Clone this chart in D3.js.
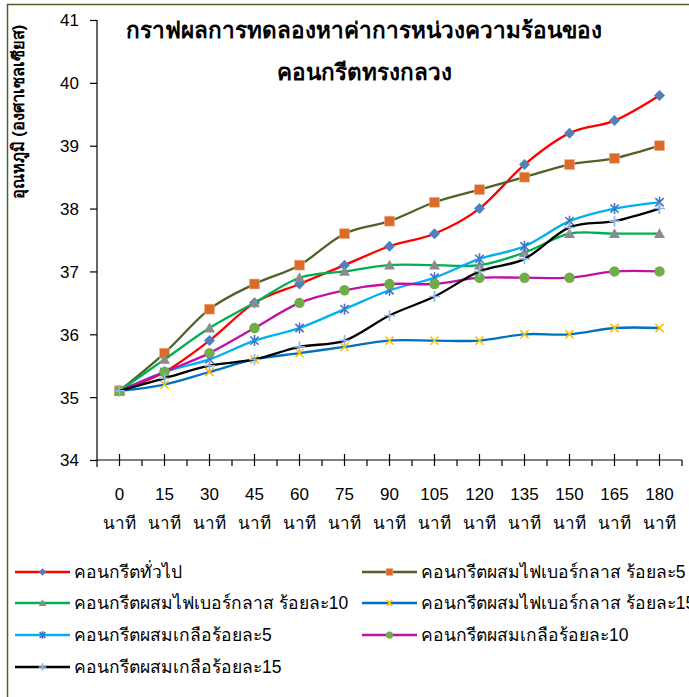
<!DOCTYPE html>
<html>
<head>
  <meta charset="UTF-8">
  <title>heat delay chart</title>
  <style>
    body { margin: 0; background: white; }
    svg { display: block; }
    text { font-family: "Liberation Sans", Arial, sans-serif; fill: black; }
    .title { font-weight: bold; font-size: 22.5px; }
  </style>
</head>
<body>
  <svg id="chart" width="689" height="697"></svg>

  <script src="https://d3js.org/d3.v7.min.js"></script>
  <script>
    // categories (minutes)
    const minutes = ["0", "15", "30", "45", "60", "75", "90", "105", "120", "135", "150", "165", "180"];
    const yTicks = [34, 35, 36, 37, 38, 39, 40, 41];

    // series values
    const normal      = [35.1, 35.4, 35.9, 36.5, 36.8, 37.1, 37.4, 37.6, 38.0, 38.7, 39.2, 39.4, 39.8];
    const fiber5      = [35.1, 35.7, 36.4, 36.8, 37.1, 37.6, 37.8, 38.1, 38.3, 38.5, 38.7, 38.8, 39.0];
    const fiber10     = [35.1, 35.6, 36.1, 36.5, 36.9, 37.0, 37.1, 37.1, 37.1, 37.3, 37.6, 37.6, 37.6];
    const fiber15     = [35.1, 35.2, 35.4, 35.6, 35.7, 35.8, 35.9, 35.9, 35.9, 36.0, 36.0, 36.1, 36.1];
    const salt5       = [35.1, 35.4, 35.6, 35.9, 36.1, 36.4, 36.7, 36.9, 37.2, 37.4, 37.8, 38.0, 38.1];
    const salt10      = [35.1, 35.4, 35.7, 36.1, 36.5, 36.7, 36.8, 36.8, 36.9, 36.9, 36.9, 37.0, 37.0];
    const salt15      = [35.1, 35.3, 35.5, 35.6, 35.8, 35.9, 36.3, 36.6, 37.0, 37.2, 37.7, 37.8, 38.0];

    const seriesNames = [
      "คอนกรีตทั่วไป",
      "คอนกรีตผสมไฟเบอร์กลาส ร้อยละ5",
      "คอนกรีตผสมไฟเบอร์กลาส ร้อยละ10",
      "คอนกรีตผสมไฟเบอร์กลาส ร้อยละ15",
      "คอนกรีตผสมเกลือร้อยละ5",
      "คอนกรีตผสมเกลือร้อยละ10",
      "คอนกรีตผสมเกลือร้อยละ15"
    ];

    const series = [
      { name: seriesNames[0], values: normal,  line: "#ff0000", mark: "diamond",  fill: "#4f81bd" },
      { name: seriesNames[1], values: fiber5,  line: "#4f6228", mark: "square",   fill: "#dc6a28" },
      { name: seriesNames[2], values: fiber10, line: "#00b050", mark: "triangle", fill: "#8c8c8c" },
      { name: seriesNames[3], values: fiber15, line: "#0070c0", mark: "x",        fill: "#ffc000" },
      { name: seriesNames[4], values: salt5,   line: "#00b0f0", mark: "star",     fill: "#4472c4" },
      { name: seriesNames[5], values: salt10,  line: "#c010a8", mark: "circle",   fill: "#70ad47" },
      { name: seriesNames[6], values: salt15,  line: "#000000", mark: "plus",     fill: "#8eb4e3" }
    ];

    const svg = d3.select("#chart");

    // outer chart frame (only top and left show in the crop)
    svg.append("path")
      .attr("d", "M7.5,700 L7.5,4.5 L700,4.5")
      .attr("fill", "none")
      .attr("stroke", "#4f6228")
      .attr("stroke-width", 1.5);

    const plotL = 97, plotR = 682, plotT = 20, plotB = 460;

    const x = d3.scaleBand().domain(minutes).range([plotL, plotR]).padding(0);
    const cx = d => x(d) + x.bandwidth() / 2;
    const y = d3.scaleLinear().domain([34, 41]).range([plotB, plotT]);

    // y axis
    const yAxis = svg.append("g").attr("transform", "translate(" + plotL + ",0)")
      .call(d3.axisLeft(y).tickValues(yTicks).tickSize(7).tickPadding(11).tickFormat(d3.format("d")));
    yAxis.select(".domain").attr("d", "M0," + plotT + "V" + (plotB + 7)).attr("stroke", "black").attr("stroke-width", 1.2);
    yAxis.selectAll(".tick line").attr("stroke", "black").attr("stroke-width", 1.2);
    yAxis.selectAll(".tick text").style("font-size", "17px").attr("dy", "0.35em");

    // x axis
    const xg = svg.append("g");
    xg.append("line").attr("x1", plotL).attr("x2", plotR).attr("y1", plotB).attr("y2", plotB)
      .attr("stroke", "black").attr("stroke-width", 1.2);
    // boundary ticks (outside)
    xg.selectAll(".bt").data(minutes).enter().append("line")
      .attr("x1", d => x(d) + x.bandwidth())
      .attr("x2", d => x(d) + x.bandwidth())
      .attr("y1", plotB).attr("y2", plotB + 6)
      .attr("stroke", "black").attr("stroke-width", 1.2);
    // centre ticks (cross)
    xg.selectAll(".ct").data(minutes).enter().append("line")
      .attr("x1", d => cx(d)).attr("x2", d => cx(d))
      .attr("y1", plotB - 6).attr("y2", plotB + 6)
      .attr("stroke", "black").attr("stroke-width", 1.2);
    xg.selectAll(".xl").data(minutes).enter().append("text")
      .attr("x", d => cx(d)).attr("y", 500)
      .attr("text-anchor", "middle").style("font-size", "17px")
      .text(d => d);
    xg.selectAll(".xu").data(minutes).enter().append("text")
      .attr("x", d => cx(d)).attr("y", 529)
      .attr("text-anchor", "middle").style("font-size", "17px")
      .text("นาที");

    // y axis title
    svg.append("text")
      .attr("transform", "translate(24,112) rotate(-90)")
      .attr("text-anchor", "middle")
      .style("font-size", "16.5px").style("font-weight", "bold")
      .text("อุณหภูมิ (องศาเซลเซียส)");

    // title
    svg.append("text").attr("class", "title").attr("x", 364).attr("y", 38)
      .attr("text-anchor", "middle").text("กราฟผลการทดลองหาค่าการหน่วงความร้อนของ");
    svg.append("text").attr("class", "title").attr("x", 364).attr("y", 80)
      .attr("text-anchor", "middle").text("คอนกรีตทรงกลวง");

    function drawMarker(g, type, fill, s) {
      if (type === "diamond") {
        g.append("path").attr("d", `M0,${-s}L${s},0L0,${s}L${-s},0Z`).attr("fill", fill);
      } else if (type === "square") {
        g.append("rect").attr("x", -s * 0.9).attr("y", -s * 0.9).attr("width", s * 1.8).attr("height", s * 1.8)
          .attr("fill", fill).attr("stroke", "#f0b090").attr("stroke-width", 0.6);
      } else if (type === "triangle") {
        g.append("path").attr("d", `M0,${-s}L${s},${s * 0.8}L${-s},${s * 0.8}Z`).attr("fill", fill);
      } else if (type === "circle") {
        g.append("circle").attr("r", s * 0.95).attr("fill", fill);
      } else if (type === "x") {
        const k = s * 0.75;
        g.append("path").attr("d", `M${-k},${-k}L${k},${k}M${-k},${k}L${k},${-k}`)
          .attr("stroke", fill).attr("stroke-width", 1.6);
      } else if (type === "star") {
        const k = s * 0.75;
        g.append("path").attr("d", `M${-k},${-k}L${k},${k}M${-k},${k}L${k},${-k}M0,${-s}L0,${s}`)
          .attr("stroke", fill).attr("stroke-width", 1.6);
      } else if (type === "plus") {
        g.append("path").attr("d", `M${-s},0L${s},0M0,${-s}L0,${s}`)
          .attr("stroke", fill).attr("stroke-width", 1.6);
      }
    }

    const line = d3.line()
      .x((d, i) => cx(minutes[i]))
      .y(d => y(d))
      .curve(d3.curveCatmullRom.alpha(0));

    series.forEach(s => {
      const g = svg.append("g");
      g.append("path").attr("d", line(s.values))
        .attr("fill", "none").attr("stroke", s.line).attr("stroke-width", 2.3);
      s.values.forEach((v, i) => {
        const m = g.append("g").attr("transform", "translate(" + cx(minutes[i]) + "," + y(v) + ")");
        drawMarker(m, s.mark, s.fill, 5.5);
      });
    });

    // legend
    const legX = [15, 362], legY = [572, 603, 635, 667];
    series.forEach((s, i) => {
      const lx = legX[i % 2], ly = legY[Math.floor(i / 2)];
      const g = svg.append("g").attr("transform", "translate(" + lx + "," + ly + ")");
      g.append("line").attr("x1", 0).attr("x2", 55).attr("y1", 0).attr("y2", 0)
        .attr("stroke", s.line).attr("stroke-width", 2.3);
      const m = g.append("g").attr("transform", "translate(27.5,0)");
      drawMarker(m, s.mark, s.fill, 3.8);
      g.append("text").attr("x", 59).attr("y", 6)
        .style("font-size", "17.5px").text(s.name);
    });
  </script>
</body>
</html>
